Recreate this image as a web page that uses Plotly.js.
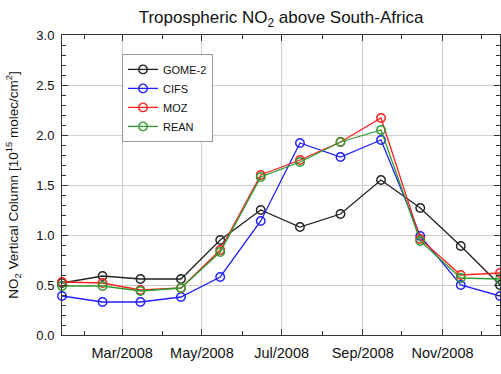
<!DOCTYPE html>
<html>
<head>
<meta charset="utf-8">
<script src="https://cdn.plot.ly/plotly-3.0.1.min.js"></script>
<style>
  html, body { margin: 0; padding: 0; background: #fff; }
  #chart { width: 501px; height: 374px; }
</style>
</head>
<body>
<div id="chart"></div>
<script>
// Monthly mean tropospheric NO2 columns over South Africa, 2008 (mid-month)
const months = ['2008-01-15', '2008-02-15', '2008-03-15', '2008-04-15', '2008-05-15', '2008-06-15',
                '2008-07-15', '2008-08-15', '2008-09-15', '2008-10-15', '2008-11-15', '2008-12-15'];

const gome2 = [0.52, 0.59, 0.56, 0.56, 0.95, 1.25, 1.08, 1.21, 1.55, 1.27, 0.89, 0.50];
const cifs  = [0.39, 0.33, 0.33, 0.38, 0.58, 1.14, 1.92, 1.78, 1.95, 0.99, 0.50, 0.39];
const moz   = [0.53, 0.52, 0.45, 0.47, 0.85, 1.60, 1.75, 1.93, 2.17, 0.96, 0.60, 0.62];
const rean  = [0.49, 0.49, 0.44, 0.47, 0.83, 1.58, 1.73, 1.93, 2.05, 0.94, 0.57, 0.56];

const tickDates  = ['2008-03-01', '2008-05-01', '2008-07-01', '2008-09-01', '2008-11-01'];
const tickLabels = ['Mar/2008', 'May/2008', 'Jul/2008', 'Sep/2008', 'Nov/2008'];
const minorDates = ['2008-02-01', '2008-04-01', '2008-06-01', '2008-08-01', '2008-10-01', '2008-12-01'];

const FONT = 'Liberation Sans, Arial, Helvetica, sans-serif';
const AXIS_COLOR = '#333';

function series(name, y, color) {
  return {
    type: 'scatter',
    mode: 'lines+markers',
    name: name,
    x: months,
    y: y,
    line: { color: color, width: 1.3 },
    marker: { symbol: 'circle-open', size: 8.5, color: color, line: { width: 1.4, color: color } },
    cliponaxis: false
  };
}

const data = [
  series('GOME-2', gome2, '#222222'),
  series('CIFS', cifs, '#1f1fff'),
  series('MOZ', moz, '#ff2020'),
  series('REAN', rean, '#2f9a2f')
];

const layout = {
  width: 501,
  height: 374,
  margin: { l: 62, r: 1, t: 35, b: 39 },
  paper_bgcolor: '#fff',
  plot_bgcolor: '#fff',
  font: { family: FONT, color: '#111', size: 13 },
  title: {
    text: 'Tropospheric NO<sub>2</sub> above South-Africa',
    font: { family: FONT, size: 17, color: '#111' },
    x: 0.5, xref: 'paper', xanchor: 'center',
    y: 17, yref: 'container', yanchor: 'middle'
  },
  xaxis: {
    type: 'date',
    range: ['2008-01-15', '2008-12-15'],
    tickmode: 'array',
    tickvals: tickDates,
    ticktext: tickLabels,
    ticks: 'inside',
    ticklen: 6,
    tickcolor: AXIS_COLOR,
    tickfont: { family: FONT, size: 14.5, color: '#111' },
    ticklabelstandoff: 5,
    showgrid: true,
    gridcolor: '#cfcfcf',
    gridwidth: 1,
    showline: true,
    linecolor: AXIS_COLOR,
    linewidth: 1,
    mirror: 'allticks',
    zeroline: false,
    minor: {
      tickmode: 'array',
      tickvals: minorDates,
      ticks: 'inside',
      ticklen: 4,
      tickcolor: AXIS_COLOR,
      showgrid: false
    },
    automargin: false
  },
  yaxis: {
    range: [0, 3],
    dtick: 0.5,
    tick0: 0,
    tickformat: '.1f',
    ticks: 'inside',
    ticklen: 6,
    tickcolor: AXIS_COLOR,
    tickfont: { family: FONT, size: 13, color: '#111' },
    ticklabelstandoff: 4,
    showgrid: true,
    gridcolor: '#cfcfcf',
    gridwidth: 1,
    showline: true,
    linecolor: AXIS_COLOR,
    linewidth: 1,
    mirror: 'allticks',
    zeroline: false,
    minor: {
      dtick: 0.1,
      ticks: 'inside',
      ticklen: 4,
      tickcolor: AXIS_COLOR,
      showgrid: false
    },
    title: {
      text: 'NO<sub>2</sub> Vertical Column [10<sup>15</sup> molec/cm<sup>2</sup>]',
      font: { family: FONT, size: 13.5, color: '#111' },
      standoff: 14
    },
    automargin: false
  },
  showlegend: true,
  legend: {
    x: 0.137, xanchor: 'left',
    y: 0.937, yanchor: 'top',
    bgcolor: '#fff',
    bordercolor: '#999',
    borderwidth: 1,
    font: { family: FONT, size: 11, color: '#111' },
    itemwidth: 30,
    tracegroupgap: 0
  }
};

Plotly.newPlot('chart', data, layout, { displayModeBar: false, staticPlot: true });
</script>
</body>
</html>
